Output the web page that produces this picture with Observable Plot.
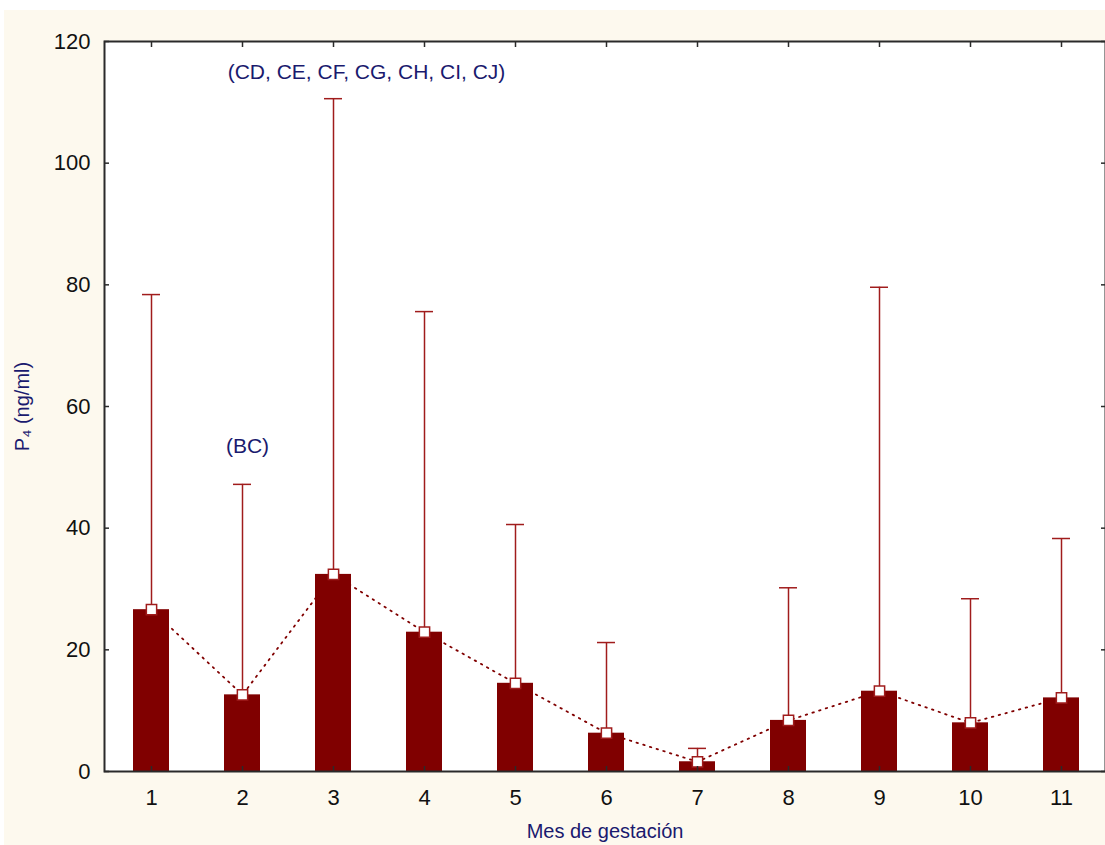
<!DOCTYPE html>
<html><head><meta charset="utf-8">
<script src="https://cdn.jsdelivr.net/npm/d3@7"></script>
<script src="https://cdn.jsdelivr.net/npm/@observablehq/plot@0.6"></script>
<style>
html,body{margin:0;padding:0;background:#fff;width:1105px;height:845px;overflow:hidden;}
#bg{position:absolute;left:4px;top:10px;width:1101px;height:835px;background:#fdf9ee;}
#chart{position:absolute;left:0;top:0;}
</style></head><body><div id="bg"></div><div id="chart"></div>
<script>
const months = ["1","2","3","4","5","6","7","8","9","10","11"];
const means = [26.6, 12.6, 32.4, 22.9, 14.5, 6.3, 1.6, 8.4, 13.2, 8.0, 12.1];
const upper = [78.4, 47.2, 110.6, 75.6, 40.6, 21.2, 3.8, 30.2, 79.6, 28.4, 38.3];
const yTicks = [0, 20, 40, 60, 80, 100, 120];
const annLabels = ["(BC)", "(CD, CE, CF, CG, CH, CI, CJ)"];
const annMonth = ["2", "3"];
const annValue = [53.4, 114.9];
const xTitle = "Mes de gestación";
const yTitle = "P₄ (ng/ml)";

const data = months.map((m, i) => ({month: m, mean: means[i], upper: upper[i]}));
const ann = annLabels.map((t, i) => ({label: t, month: annMonth[i], value: annValue[i]}));

const barColor = "#800000";
const errColor = "#a01c1c";
const navy = "#1a1a6e";
const axisColor = "#2a2a2a";

const plot = Plot.plot({
  width: 1105, height: 845,
  marginLeft: 104, marginTop: 41, marginBottom: 74, marginRight: 0,
  style: {background: "transparent", fontFamily: "'Liberation Sans', Arial, sans-serif", color: "#111"},
  x: {type: "band", domain: months, range: [104, 1109], paddingInner: 0.6, paddingOuter: 0.3},
  y: {domain: [0, 120], range: [771, 41]},
  marks: [
    Plot.frame({fill: "white", stroke: null}),
    Plot.barY(data, {x: "month", y: "mean", fill: barColor}),
    Plot.lineY(data, {x: "month", y: "mean", stroke: barColor, strokeWidth: 1.8, strokeDasharray: "1.5,5.5", strokeLinecap: "round"}),
    Plot.ruleX(data, {x: "month", y1: "mean", y2: "upper", stroke: errColor, strokeWidth: 1.5}),
    Plot.tickY(data, {x: "month", y: "upper", stroke: errColor, strokeWidth: 1.5, inset: 9}),
    Plot.dot(data, {x: "month", y: "mean", symbol: "square", r: 5.8, fill: "white", stroke: errColor, strokeWidth: 1.5}),
    Plot.text(ann.slice(0, 1), {x: "month", y: "value", text: "label", fill: navy, fontSize: 21, dx: 5}),
    Plot.text(ann.slice(1), {x: "month", y: "value", text: "label", fill: navy, fontSize: 21, dx: 33}),
    Plot.axisY({ticks: yTicks, tickSize: 0, tickPadding: 14, fontSize: 22, label: null, fill: "#111"}),
    Plot.axisY({ticks: yTicks, tickSize: -5, text: null, label: null, stroke: axisColor, strokeWidth: 1.5}),
    Plot.axisY({ticks: yTicks, anchor: "right", tickSize: -5, text: null, label: null, stroke: axisColor, strokeWidth: 1.5}),
    Plot.axisX({tickSize: -5, text: null, label: null, stroke: axisColor, strokeWidth: 1.5}),
    Plot.axisX({anchor: "top", tickSize: -5, text: null, label: null, stroke: axisColor, strokeWidth: 1.5}),
    Plot.axisX({tickSize: 0, tickPadding: 18, fontSize: 22, label: null, fill: "#111"}),
    Plot.text([xTitle], {frameAnchor: "bottom", dy: 66, fill: navy, fontSize: 20}),
    Plot.text([yTitle], {frameAnchor: "left", dx: -82, rotate: -90, textAnchor: "middle", fill: navy, fontSize: 20}),
    Plot.frame({stroke: axisColor, strokeWidth: 2})
  ]
});
document.getElementById("chart").appendChild(plot);
</script></body></html>
